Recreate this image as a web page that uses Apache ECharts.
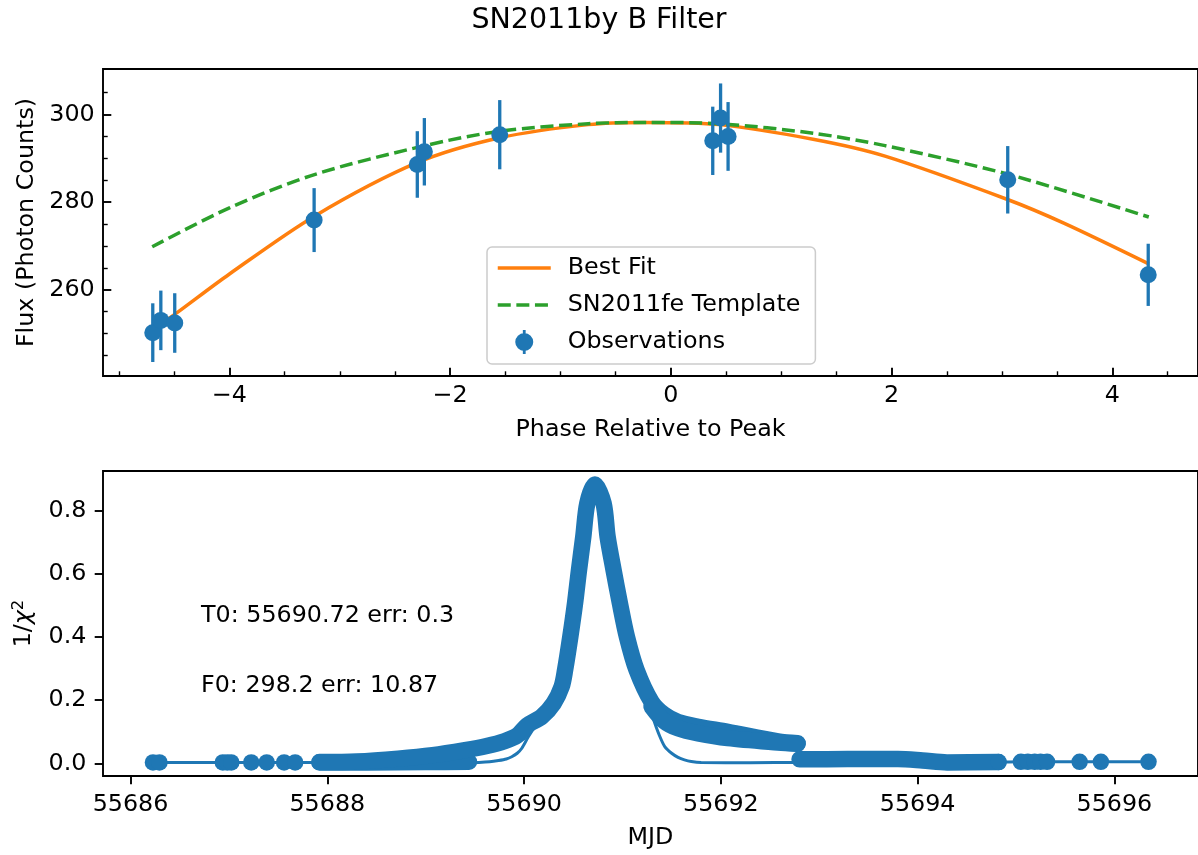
<!DOCTYPE html>
<html>
<head>
<meta charset="utf-8">
<script src="https://cdn.jsdelivr.net/npm/echarts@6/dist/echarts.min.js"></script>
<style>html,body{margin:0;padding:0;background:#fff}#c{width:1198px;height:855px}</style>
</head>
<body>
<div id="c"></div>
<script>
// ---------- data ----------
// top panel: observations
const phase   = [-4.695, -4.622, -4.496, -3.233, -2.298, -2.234, -1.551, 0.379, 0.450, 0.518, 3.052, 4.325];
const flux    = [250.2, 253.0, 252.4, 275.9, 288.6, 291.5, 295.4, 294.0, 299.2, 295.0, 285.1, 263.4];
const fluxErr = [6.7, 6.8, 6.8, 7.3, 7.6, 7.7, 7.9, 7.8, 7.9, 7.85, 7.7, 7.1];
// top panel: best fit curve
const fitPhase = [-4.70, -4.50, -4.0, -3.23, -2.30, -1.55, -0.75, -0.24, 0.44, 1.30, 1.94, 3.05, 3.56, 4.33];
const fitFlux  = [250.8, 254.3, 263.6, 276.8, 289.0, 294.7, 297.7, 298.2, 297.7, 294.3, 290.5, 280.6, 275.2, 265.9];
// top panel: SN2011fe template
const tmplPhase = [-4.70, -4.0, -3.23, -2.23, -1.55, -0.75, -0.24, 0.44, 1.30, 1.94, 3.05, 4.33];
const tmplFlux  = [269.8, 278.7, 286.3, 292.9, 296.2, 297.9, 298.2, 297.9, 295.7, 292.9, 286.4, 276.6];
// top panel ticks
const phaseTicks      = [-4, -2, 0, 2, 4];
const phaseMinorTicks = [-5, -4.5, -3.5, -3, -2.5, -1.5, -1, -0.5, 0.5, 1, 1.5, 2.5, 3, 3.5, 4.5];
const fluxTicks       = [260, 280, 300];
const fluxMinorTicks  = [245, 250, 255, 265, 270, 275, 285, 290, 295, 305];

// bottom panel: isolated grid points (MJD, 1/chi^2)
const sparseMjd = [55686.228, 55686.294, 55686.938, 55686.983, 55687.024, 55687.227, 55687.384, 55687.561, 55687.673,
                   55694.824, 55695.05, 55695.12, 55695.19, 55695.25, 55695.316, 55695.647, 55695.863, 55696.347];
const sparseInv = [0.003, 0.003, 0.003, 0.003, 0.003, 0.003, 0.003, 0.003, 0.003,
                   0.004, 0.005, 0.005, 0.005, 0.005, 0.005, 0.005, 0.005, 0.005];
// bottom panel: thin connecting curve
const thinMjd = [55686.228, 55686.938, 55687.673, 55688.5, 55689.2, 55689.40, 55689.54, 55689.65, 55689.74, 55689.82, 55689.875, 55689.93, 55689.977, 55690.045, 55690.18, 55690.30, 55690.47, 55690.60, 55690.72, 55690.849, 55690.974, 55691.143, 55691.244, 55691.29, 55691.329, 55691.38, 55691.43, 55691.50, 55691.565, 55691.63, 55691.70, 55691.80, 55692.3, 55692.8, 55694.8, 55695.05, 55696.347];
const thinInv = [0.003, 0.003, 0.003, 0.002, 0.002, 0.002, 0.003, 0.005, 0.009, 0.014, 0.021, 0.032, 0.048, 0.085, 0.148, 0.19, 0.40, 0.72, 0.88, 0.718, 0.507, 0.296, 0.211, 0.165, 0.127, 0.085, 0.053, 0.032, 0.019, 0.011, 0.006, 0.003, 0.002, 0.003, 0.004, 0.005, 0.005];
// bottom panel: dense bands of grid points (track centres)
const bandLowLeftMjd = [55687.92, 55688.4, 55689.0, 55689.44];
const bandLowLeftInv = [0.003, 0.003, 0.004, 0.005];
const bandUpperMjd = [55687.92, 55688.3, 55688.72, 55689.07, 55689.40, 55689.62, 55689.80, 55689.93, 55690.03, 55690.18, 55690.30, 55690.382, 55690.417, 55690.47, 55690.518, 55690.558, 55690.602, 55690.643, 55690.72, 55690.808, 55690.849, 55690.91, 55690.974, 55691.045, 55691.143, 55691.295, 55691.42, 55691.565, 55691.77, 55692.07, 55692.58, 55692.78];
const bandUpperInv = [0.004, 0.006, 0.015, 0.026, 0.042, 0.055, 0.070, 0.088, 0.12, 0.148, 0.19, 0.243, 0.296, 0.401, 0.507, 0.612, 0.718, 0.824, 0.883, 0.824, 0.718, 0.612, 0.507, 0.401, 0.296, 0.195, 0.155, 0.131, 0.116, 0.100, 0.070, 0.064];
const bandTailMjd = [55691.295, 55691.42, 55691.565, 55691.77, 55692.07, 55692.58, 55692.78];
const bandTailInv = [0.18, 0.135, 0.111, 0.095, 0.080, 0.066, 0.062];
const bandLowRightMjd = [55692.80, 55693.29, 55693.80, 55694.05, 55694.30, 55694.82];
const bandLowRightInv = [0.013, 0.0136, 0.0136, 0.009, 0.003, 0.004];
// bottom panel ticks
const mjdTicks = [55686, 55688, 55690, 55692, 55694, 55696];
const invTicks = [0.0, 0.2, 0.4, 0.6, 0.8];

// ---------- chart ----------
const FONT = 'DejaVu Sans';
const FS = 23.8;
const BLUE = '#1f77b4', ORANGE = '#ff7f0e', GREEN = '#2ca02c';
const zip = (a, b) => a.map((v, i) => [v, b[i]]);
const minus = v => (v < 0 ? '\u2212' + (-v) : String(v));
const lbl = {fontFamily: FONT, fontSize: FS, color: '#000'};

// legend handle for the error-bar entry: bar above, circle, bar below
const obsIcon = 'path://M7.6,0 L10.4,0 L10.4,4 L7.6,4 Z M7.6,20 L10.4,20 L10.4,24 L7.6,24 Z M0,12 A9,9 0 1,1 18,12 A9,9 0 1,1 0,12 Z';

function bandSeries(mjd, inv) {
  return {type: 'line', xAxisIndex: 2, yAxisIndex: 2, data: zip(mjd, inv), smooth: 0.3,
    symbol: 'none', lineStyle: {color: BLUE, width: 16.5, cap: 'round', join: 'round'}, z: 3, silent: true};
}
const noLine = {show: false, onZero: false};

const option = {
  animation: false,
  backgroundColor: '#ffffff',
  title: {text: 'SN2011by B Filter', left: 'center', top: 1,
    textStyle: {fontFamily: FONT, fontSize: 28.5, fontWeight: 'normal', color: '#000'}},
  legend: {
    orient: 'vertical', left: 487, top: 247, padding: [9, 15, 10, 9],
    itemWidth: 53, itemHeight: 24, itemGap: 13, selectedMode: false,
    backgroundColor: 'rgba(255,255,255,0.8)', borderColor: '#cccccc', borderWidth: 1.5, borderRadius: 5,
    textStyle: {fontFamily: FONT, fontSize: FS, color: '#000', padding: [0, 0, 0, 12]},
    data: [
      {name: 'Best Fit', itemStyle: {opacity: 0}, lineStyle: {width: 3.5, color: ORANGE}},
      {name: 'SN2011fe Template', itemStyle: {opacity: 0}, lineStyle: {width: 3.5, color: GREEN, type: [13, 5.6]}},
      {name: 'Observations', icon: obsIcon}
    ]
  },
  grid: [
    {left: 103, top: 69, width: 1100.4, height: 307, show: true, borderColor: '#000', borderWidth: 1.9, containLabel: false},
    {left: 103, top: 471, width: 1098, height: 305, show: true, borderColor: '#000', borderWidth: 1.9, containLabel: false}
  ],
  xAxis: [
    {type: 'value', gridIndex: 0, min: -5.146, max: 4.776, position: 'bottom',
      axisLine: noLine, splitLine: {show: false},
      axisTick: {show: true, inside: true, length: 8.3, lineStyle: {color: '#000', width: 1.9}, customValues: phaseTicks},
      axisLabel: Object.assign({customValues: phaseTicks, formatter: minus, margin: 8.3}, lbl),
      name: 'Phase Relative to Peak', nameLocation: 'middle', nameGap: 42, nameTextStyle: lbl},
    {type: 'value', gridIndex: 0, min: -5.146, max: 4.776, position: 'bottom',
      axisLine: noLine, splitLine: {show: false}, axisLabel: {show: false},
      axisTick: {show: true, inside: true, length: 4.7, lineStyle: {color: '#000', width: 1.4}, customValues: phaseMinorTicks}},
    {type: 'value', gridIndex: 1, min: 55685.72, max: 55696.85, position: 'bottom',
      axisLine: noLine, splitLine: {show: false},
      axisTick: {show: true, inside: false, length: 8.3, lineStyle: {color: '#000', width: 1.9}, customValues: mjdTicks},
      axisLabel: Object.assign({customValues: mjdTicks, margin: 16.6, formatter: v => String(v)}, lbl),
      name: 'MJD', nameLocation: 'middle', nameGap: 50, nameTextStyle: lbl}
  ],
  yAxis: [
    {type: 'value', gridIndex: 0, min: 240.3, max: 310.4, position: 'left',
      axisLine: noLine, splitLine: {show: false},
      axisTick: {show: true, inside: true, length: 8.3, lineStyle: {color: '#000', width: 1.9}, customValues: fluxTicks},
      axisLabel: Object.assign({customValues: fluxTicks, margin: 8.3}, lbl),
      name: 'Flux (Photon Counts)', nameLocation: 'middle', nameGap: 60, nameTextStyle: lbl},
    {type: 'value', gridIndex: 0, min: 240.3, max: 310.4, position: 'left',
      axisLine: noLine, splitLine: {show: false}, axisLabel: {show: false},
      axisTick: {show: true, inside: true, length: 4.7, lineStyle: {color: '#000', width: 1.4}, customValues: fluxMinorTicks}},
    {type: 'value', gridIndex: 1, min: -0.04, max: 0.926, position: 'left',
      axisLine: noLine, splitLine: {show: false},
      axisTick: {show: true, inside: false, length: 8.3, lineStyle: {color: '#000', width: 1.9}, customValues: invTicks},
      axisLabel: Object.assign({customValues: invTicks, margin: 16.6, formatter: v => v.toFixed(1)}, lbl),
      name: '1/{it|χ}{sup|2}', nameLocation: 'middle', nameGap: 66,
      nameTextStyle: Object.assign({rich: {
        it: {fontFamily: FONT, fontSize: FS, fontStyle: 'italic', color: '#000'},
        sup: {fontFamily: FONT, fontSize: 16.5, color: '#000', verticalAlign: 'top', padding: [0, 0, 10, 0]}
      }}, lbl)}
  ],
  graphic: [
    {type: 'text', left: 201, top: 604, z: 100, style: {text: 'T0: 55690.72 err: 0.3', font: FS + 'px "DejaVu Sans"', fill: '#000'}},
    {type: 'text', left: 201, top: 674, z: 100, style: {text: 'F0: 298.2 err: 10.87', font: FS + 'px "DejaVu Sans"', fill: '#000'}}
  ],
  series: [
    {name: 'Best Fit', type: 'line', xAxisIndex: 0, yAxisIndex: 0, data: zip(fitPhase, fitFlux), smooth: 0.3,
      symbol: 'none', lineStyle: {color: ORANGE, width: 3.5}, itemStyle: {color: ORANGE}, z: 2},
    {name: 'SN2011fe Template', type: 'line', xAxisIndex: 0, yAxisIndex: 0, data: zip(tmplPhase, tmplFlux), smooth: 0.3,
      symbol: 'none', lineStyle: {color: GREEN, width: 3.5, type: [13, 5.6]}, itemStyle: {color: GREEN}, z: 2},
    {name: 'obsErr', type: 'custom', xAxisIndex: 0, yAxisIndex: 0,
      data: phase.map((p, i) => [p, flux[i] - fluxErr[i], flux[i] + fluxErr[i]]),
      encode: {x: 0, y: [1, 2]},
      renderItem: (params, api) => {
        const lo = api.coord([api.value(0), api.value(1)]);
        const hi = api.coord([api.value(0), api.value(2)]);
        return {type: 'line', shape: {x1: lo[0], y1: lo[1], x2: hi[0], y2: hi[1]}, style: {stroke: BLUE, lineWidth: 3.3}};
      }, z: 4, silent: true},
    {name: 'Observations', type: 'scatter', xAxisIndex: 0, yAxisIndex: 0, data: zip(phase, flux),
      symbol: 'circle', symbolSize: 17, itemStyle: {color: BLUE, opacity: 1}, z: 5},

    {name: 'chiThin', type: 'line', xAxisIndex: 2, yAxisIndex: 2, data: zip(thinMjd, thinInv), smooth: 0.2,
      symbol: 'none', lineStyle: {color: BLUE, width: 3}, z: 2, silent: true},
    bandSeries(bandLowLeftMjd, bandLowLeftInv),
    bandSeries(bandUpperMjd, bandUpperInv),
    bandSeries(bandTailMjd, bandTailInv),
    bandSeries(bandLowRightMjd, bandLowRightInv),
    {name: 'chiPts', type: 'scatter', xAxisIndex: 2, yAxisIndex: 2, data: zip(sparseMjd, sparseInv),
      symbol: 'circle', symbolSize: 16.5, itemStyle: {color: BLUE, opacity: 1}, z: 4, silent: true}
  ]
};

const chart = echarts.init(document.getElementById('c'), null, {renderer: 'canvas'});
chart.setOption(option);
</script>
</body>
</html>
